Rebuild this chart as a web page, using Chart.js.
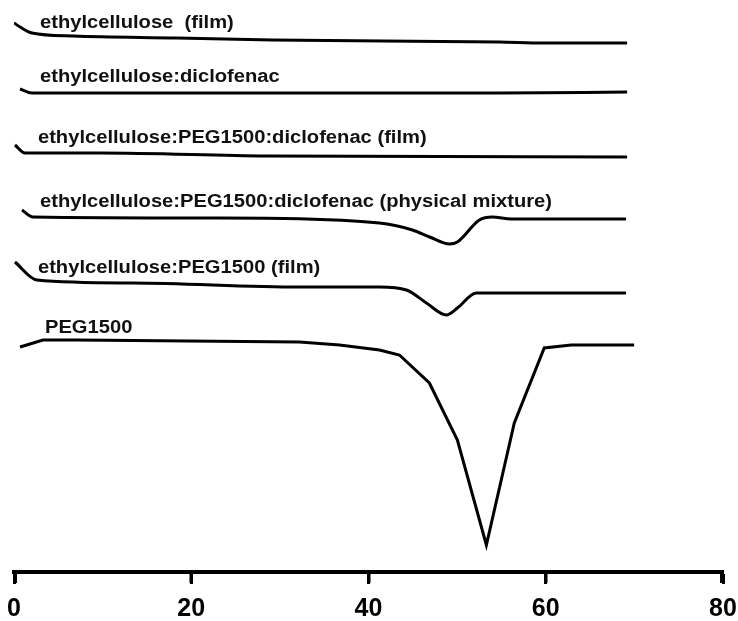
<!DOCTYPE html>
<html>
<head>
<meta charset="utf-8">
<script src="https://cdn.jsdelivr.net/npm/chart.js@4/dist/chart.umd.min.js"></script>
<style>
  html, body { margin: 0; padding: 0; background: #fff; }
  #wrap { width: 738px; height: 621px; position: relative; }
</style>
</head>
<body>
<div id="wrap"><canvas id="c" width="738" height="621"></canvas></div>
<script>
// ---- data (temperature, relative heat flow, arbitrary units) ----
const seriesNames = [
  "ethylcellulose  (film)",
  "ethylcellulose:diclofenac",
  "ethylcellulose:PEG1500:diclofenac (film)",
  "ethylcellulose:PEG1500:diclofenac (physical mixture)",
  "ethylcellulose:PEG1500 (film)",
  "PEG1500"
];
const ecFilmT = [0, 0.68, 2.03, 6.65, 18.37, 29.18, 54.76, 59.83, 69.18];
const ecFilmH = [54.9, 54.5, 53.9, 53.6, 53.4, 53.2, 53.0, 52.9, 52.9];

const ecDicT = [0.68, 2.03, 30.0, 54.76, 69.18];
const ecDicH = [48.3, 47.9, 47.9, 47.9, 48.0];

const ecPegDicFilmT = [0.11, 1.24, 9.69, 28.5, 69.18];
const ecPegDicFilmH = [42.7, 41.9, 41.9, 41.6, 41.5];

const ecPegDicPmT = [0.9, 2.14, 22.87, 41.24, 44.96, 46.9, 49.13, 50.03, 52.51, 53.97, 56.11, 69.07];
const ecPegDicPmH = [36.2, 35.5, 35.4, 34.9, 34.2, 33.5, 32.8, 33.0, 35.2, 35.5, 35.3, 35.3];

const ecPegFilmT = [0.11, 2.59, 13.41, 32.23, 41.24, 44.28, 46.54, 48.79, 50.03, 52.17, 61.18, 69.07];
const ecPegFilmH = [31.0, 29.2, 28.9, 28.5, 28.5, 28.2, 26.9, 25.7, 26.4, 27.9, 27.9, 27.9];

const pegT = [0.68, 3.27, 7.10, 32.23, 36.73, 41.24, 43.49, 46.87, 50.03, 53.30, 56.45, 59.83, 62.87, 69.97];
const pegH = [22.5, 23.2, 23.2, 23.0, 22.7, 22.2, 21.7, 18.9, 13.2, 2.7, 14.9, 22.4, 22.7, 22.7];

const xTicks = [0, 20, 40, 60, 80];

// label anchors (temperature, heat flow) for each curve's caption
const labelT = [2.93, 2.93, 2.70, 2.93, 2.70, 3.49];
const labelH = [54.4, 49.0, 42.9, 36.5, 29.9, 23.9];

// ---- build datasets ----
const pairs = [
  [ecFilmT, ecFilmH], [ecDicT, ecDicH], [ecPegDicFilmT, ecPegDicFilmH],
  [ecPegDicPmT, ecPegDicPmH], [ecPegFilmT, ecPegFilmH], [pegT, pegH]
];
const datasets = pairs.map((p, i) => ({
  label: seriesNames[i],
  data: p[0].map((t, k) => ({ x: t, y: p[1][k] })),
  borderColor: '#000',
  borderWidth: 3,
  pointRadius: 0,
  fill: false,
  tension: i === 5 ? 0 : 0.35,
  cubicInterpolationMode: i === 5 ? 'default' : 'monotone'
}));

const captionPlugin = {
  id: 'captions',
  afterDatasetsDraw(chart) {
    const ctx = chart.ctx;
    const xs = chart.scales.x, ys = chart.scales.y;
    ctx.save();
    ctx.fillStyle = '#111';
    ctx.font = 'bold 18px "Liberation Sans", Arial, sans-serif';
    ctx.textBaseline = 'alphabetic';
    ctx.textAlign = 'left';
    seriesNames.forEach((name, i) => {
      const px = xs.getPixelForValue(labelT[i]);
      const py = ys.getPixelForValue(labelH[i]);
      ctx.save();
      ctx.translate(px, py);
      ctx.scale(1.12, 1);
      ctx.fillText(name, 0, 0);
      ctx.restore();
    });
    ctx.restore();
  },
  afterDraw(chart) {
    // make the downward tick marks clearly visible below the axis line
    const ctx = chart.ctx;
    const xs = chart.scales.x;
    const y0 = chart.chartArea.bottom;
    ctx.save();
    ctx.strokeStyle = '#000';
    ctx.lineWidth = 3;
    ctx.lineCap = 'butt';
    xs.ticks.forEach(t => {
      const px = Math.round(xs.getPixelForValue(t.value));
      const cx = Math.min(Math.max(px, xs.left + 1.5), xs.right - 1.5);
      ctx.beginPath();
      ctx.moveTo(cx, y0);
      ctx.lineTo(cx, y0 + 11);
      ctx.stroke();
    });
    ctx.restore();
  }
};

new Chart(document.getElementById('c'), {
  type: 'line',
  data: { datasets },
  options: {
    responsive: false,
    animation: false,
    layout: { padding: { top: 2, left: 14, right: 15, bottom: 0 } },
    plugins: { legend: { display: false }, tooltip: { enabled: false } },
    scales: {
      x: {
        type: 'linear',
        min: 0, max: 80,
        afterBuildTicks(scale) { scale.ticks = xTicks.map(v => ({ value: v })); },
        afterFit(scale) {
          scale.height = 49;
          scale.paddingLeft = 0;
          scale.paddingRight = 0;
        },
        border: { display: true, color: '#000', width: 4 },
        grid: { display: true, drawOnChartArea: false, drawTicks: true, tickLength: 12, tickWidth: 3, tickColor: '#000', color: '#000' },
        ticks: { color: '#000', font: { family: '"Liberation Sans", Arial, sans-serif', size: 25, weight: 'bold', lineHeight: 1.0 }, padding: 13, maxRotation: 0 }
      },
      y: {
        type: 'linear',
        display: false,
        min: 0, max: 57
      }
    }
  },
  plugins: [captionPlugin]
});
</script>
</body>
</html>
